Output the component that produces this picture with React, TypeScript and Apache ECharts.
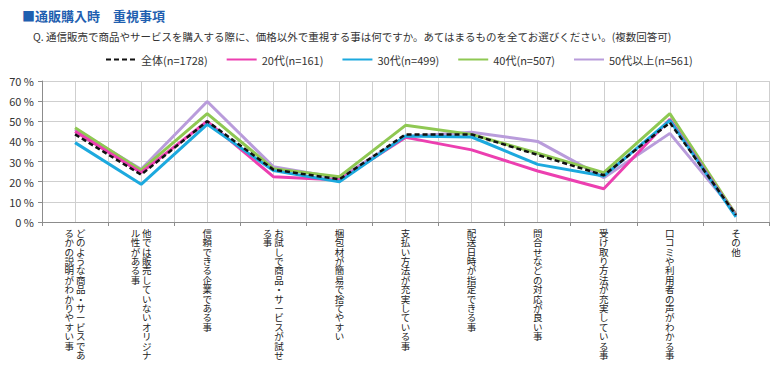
import React, { useEffect, useRef } from "react";
import * as echarts from "echarts";

const categories = [
  "どのような商品・サービスであるかの説明がわかりやすい事",
  "他では販売していないオリジナル性がある事",
  "信頼できる企業である事",
  "お試しで商品・サービスが試せる事",
  "梱包材が簡易で捨てやすい",
  "支払い方法が充実している事",
  "配送日時が指定できる事",
  "問合せなどの対応が良い事",
  "受け取り方法が充実している事",
  "口コミや利用者の声がわかる事",
  "その他",
];

const seriesNames = ["全体(n=1728)", "20代(n=161)", "30代(n=499)", "40代(n=507)", "50代以上(n=561)"];

const allData = [43.5, 23.5, 50.0, 26.0, 21.2, 43.5, 43.5, 33.3, 23.2, 49.3, 3.5];
const age20 = [45.0, 24.5, 50.0, 22.5, 20.8, 42.0, 35.8, 25.3, 16.5, 51.0, 3.0];
const age30 = [39.4, 18.7, 48.5, 25.5, 20.0, 42.7, 42.2, 28.6, 22.8, 50.5, 2.5];
const age40 = [46.8, 25.7, 53.8, 26.5, 22.5, 48.0, 43.5, 34.1, 24.5, 53.8, 3.6];
const age50 = [46.0, 26.2, 59.8, 27.5, 21.8, 42.4, 44.6, 40.0, 22.0, 44.0, 4.3];

const yTicks = [0, 10, 20, 30, 40, 50, 60, 70];

const COL = 14;

function verticalLabel(s: string): string {
  const chars = Array.from(s);
  const col1 = chars.slice(0, COL);
  const col2 = chars.slice(COL);
  const lines: string[] = [];
  for (let i = 0; i < col1.length; i++) {
    if (col2.length > 0) {
      const left = col2[i] ?? "\u3000";
      lines.push(`{c|${left}}{c|${col1[i]}}`);
    } else {
      lines.push(`{c|${col1[i]}}`);
    }
  }
  return lines.join("\n");
}

export default function App() {
  const ref = useRef<HTMLDivElement>(null);
  useEffect(() => {
    if (!ref.current) return;
    const chart = echarts.init(ref.current, undefined, { renderer: "svg" });
    const font = '"Noto Sans CJK JP", "Noto Sans", sans-serif';
    const halfCats = Array.from({ length: categories.length * 2 }, (_, i) => String(i));
    chart.setOption({
      animation: false,
      backgroundColor: "#ffffff",
      textStyle: { fontFamily: font },
      title: [
        {
          text: "■通販購入時　重視事項",
          left: 17,
          top: 4,
          textStyle: { color: "#1F5FB0", fontSize: 13, fontWeight: "bold", fontFamily: font },
        },
        {
          text: "Q. 通信販売で商品やサービスを購入する際に、価格以外で重視する事は何ですか。あてはまるものを全てお選びください。(複数回答可)",
          left: 28,
          top: 26,
          textStyle: { color: "#333333", fontSize: 10.5, fontWeight: "normal", fontFamily: font },
        },
      ],
      legend: {
        data: seriesNames,
        left: 100,
        top: 49,
        itemWidth: 30,
        itemHeight: 10,
        itemGap: 18,
        itemStyle: { opacity: 0, borderWidth: 0 },
        textStyle: { color: "#333333", fontSize: 11, fontFamily: font },
      },
      grid: { left: 42, right: 11, top: 81, bottom: 146 },
      xAxis: [
        {
          type: "category",
          data: categories,
          boundaryGap: true,
          axisLine: { show: true, lineStyle: { color: "#8c8c8c", width: 1 } },
          axisTick: { show: true, length: 4, lineStyle: { color: "#8c8c8c" } },
          splitLine: { show: false },
          axisLabel: {
            interval: 0,
            margin: 6,
            color: "#222222",
            formatter: (v: string) => verticalLabel(v),
            rich: {
              c: { width: 11.5, align: "center", fontSize: 9.5, lineHeight: 9.4, color: "#222222", fontFamily: font },
            },
          },
        },
        {
          type: "category",
          data: halfCats,
          boundaryGap: true,
          position: "bottom",
          axisLine: { show: false },
          axisTick: { show: false },
          axisLabel: { show: false },
          splitLine: { show: true, interval: 0, lineStyle: { color: "#cfcfcf", width: 1 } },
        },
      ],
      yAxis: {
        type: "value",
        min: 0,
        max: 70,
        interval: 10,
        axisLine: { show: true, lineStyle: { color: "#8c8c8c" } },
        axisTick: { show: true, inside: false, length: 4, lineStyle: { color: "#8c8c8c" } },
        splitLine: { show: true, lineStyle: { color: "#cfcfcf" } },
        axisLabel: {
          color: "#333333",
          fontSize: 11,
          margin: 8,
          formatter: (v: number) => (yTicks.includes(v) ? `${v} %` : ""),
        },
      },
      series: [
        {
          name: seriesNames[0],
          type: "line",
          data: allData,
          symbol: "none",
          z: 10,
          itemStyle: { color: "#111111" },
          lineStyle: { color: "#111111", width: 2.5, type: [5, 3] },
        },
        {
          name: seriesNames[1],
          type: "line",
          data: age20,
          symbol: "none",
          z: 6,
          itemStyle: { color: "#EC3FB0" },
          lineStyle: { color: "#EC3FB0", width: 3 },
        },
        {
          name: seriesNames[2],
          type: "line",
          data: age30,
          symbol: "none",
          z: 7,
          itemStyle: { color: "#1CA9DE" },
          lineStyle: { color: "#1CA9DE", width: 3 },
        },
        {
          name: seriesNames[3],
          type: "line",
          data: age40,
          symbol: "none",
          z: 4,
          itemStyle: { color: "#8FC853" },
          lineStyle: { color: "#8FC853", width: 3 },
        },
        {
          name: seriesNames[4],
          type: "line",
          data: age50,
          symbol: "none",
          z: 3,
          itemStyle: { color: "#B99CDB" },
          lineStyle: { color: "#B99CDB", width: 3 },
        },
      ],
    });
    return () => chart.dispose();
  }, []);
  return <div ref={ref} style={{ width: 780, height: 368, position: "absolute", left: 0, top: 0 }} />;
}
